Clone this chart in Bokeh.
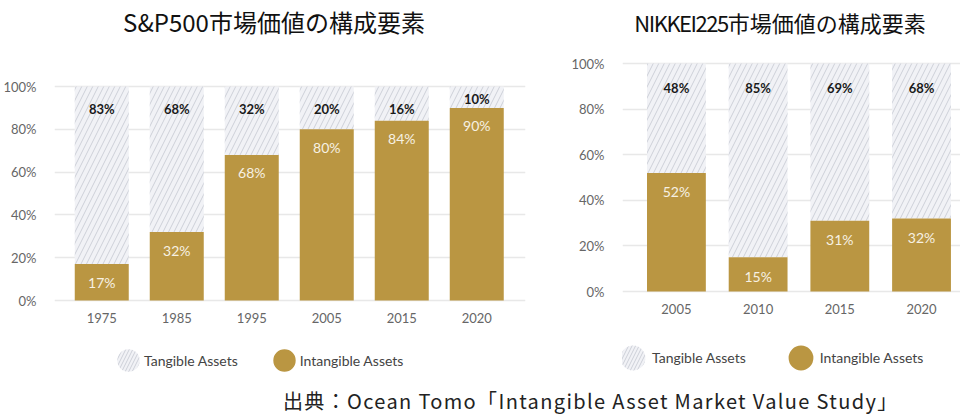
from bokeh.plotting import figure
from bokeh.models import (Range1d, FixedTicker, PrintfTickFormatter, Legend,
                          LegendItem, ColumnDataSource, Div)
from bokeh.layouts import row, column
from bokeh.core.properties import value
from bokeh.embed import file_html
from bokeh.resources import INLINE

# ---------------- data ----------------
sp_years = ["1975", "1985", "1995", "2005", "2015", "2020"]
sp_intangible = [17, 32, 68, 80, 84, 90]
sp_tangible = [83, 68, 32, 20, 16, 10]

nk_years = ["2005", "2010", "2015", "2020"]
nk_intangible = [52, 15, 31, 32]
nk_tangible = [48, 85, 69, 68]

ticks_y = [0, 20, 40, 60, 80, 100]

sp_title = ("S&P500", "市場価値の構成要素")
nk_title = ("NIKKEI225", "市場価値の構成要素")
source_text = "出典：Ocean Tomo「Intangible Asset Market Value Study」"
legend_labels = ["Tangible Assets", "Intangible Assets"]

# ---------------- styles ----------------
GOLD = "#BA9642"
HATCH_BG = "#F1F2F6"
HATCH_LINE = "#CDD0D8"
GRID = "#E8E8E8"
TICK = "#666666"
TICK_FONT = "Lato"
CJK_FONT = "Noto Sans CJK JP"
TITLE_H = 44
H = 344
SRC_H = 26
W1 = 560
W2 = 400
NAN = float("nan")


def make_chart(years, intang, tang, width, border_left, border_right,
               x_start, x_end, px_per_unit, top100, zero, top_off, in_off,
               leg_loc, leg_glyph, leg_spacing, label_standoff):
    idx = list(range(len(years)))
    src = ColumnDataSource(dict(
        x=idx,
        intang=intang,
        top=[a + b for a, b in zip(intang, tang)],
        lab_in=[f"{v}%" for v in intang],
        lab_tg=[f"{v}%" for v in tang],
        off_tg=[min(top_off, t * px_per_unit - 9) for t in tang],
    ))
    p = figure(width=width, height=H, output_backend="svg", toolbar_location=None,
               x_range=Range1d(x_start, x_end),
               y_range=Range1d(-(H - zero) / px_per_unit, 100 + top100 / px_per_unit),
               min_border_left=border_left, min_border_right=border_right,
               min_border_top=0, min_border_bottom=0, margin=0)
    p.outline_line_color = None
    p.xgrid.grid_line_color = None
    p.ygrid.grid_line_color = GRID
    p.ygrid.grid_line_width = 1.5

    p.yaxis.ticker = FixedTicker(ticks=ticks_y)
    p.yaxis.formatter = PrintfTickFormatter(format="%d%%")
    p.xaxis.ticker = FixedTicker(ticks=idx)
    p.xaxis.major_label_overrides = {i: y for i, y in zip(idx, years)}
    p.xaxis.fixed_location = 0
    for ax in (p.xaxis, p.yaxis):
        ax.axis_line_color = None
        ax.major_tick_line_color = None
        ax.minor_tick_line_color = None
        ax.major_label_text_font = TICK_FONT
        ax.major_label_text_font_size = "13px"
        ax.major_label_text_color = TICK
    p.yaxis.major_label_standoff = 12
    p.xaxis.major_label_standoff = 6

    # tangible (hatched) stacked part
    p.vbar(x="x", width=0.72, bottom="intang", top="top", source=src,
           fill_color=HATCH_BG, line_color=None, hatch_pattern="/",
           hatch_color=HATCH_LINE, hatch_weight=1, hatch_scale=11)
    # intangible (gold)
    p.vbar(x="x", width=0.72, bottom=0, top="intang", source=src,
           fill_color=GOLD, line_color=None)

    p.text(x="x", y="top", text="lab_tg", source=src, y_offset="off_tg",
           text_align="center", text_baseline="middle",
           text_font=value(TICK_FONT), text_font_style="bold",
           text_font_size="13px", text_color="#1a1a1a")
    p.text(x="x", y="intang", text="lab_in", source=src, y_offset=in_off,
           text_align="center", text_baseline="middle",
           text_font=value(TICK_FONT), text_font_size="14px", text_color="#F7F1E3")

    # legend swatches (nothing drawn in the plot: NaN position)
    d1 = p.ellipse(x=[NAN], y=[NAN], width=10, height=10, width_units="screen",
                   height_units="screen", fill_color=HATCH_BG, line_color=None,
                   hatch_pattern="/", hatch_color=HATCH_LINE, hatch_weight=1,
                   hatch_scale=7)
    d2 = p.ellipse(x=[NAN], y=[NAN], width=10, height=10, width_units="screen",
                   height_units="screen", fill_color=GOLD, line_color=None)
    leg = Legend(items=[LegendItem(label=legend_labels[0], renderers=[d1]),
                        LegendItem(label=legend_labels[1], renderers=[d2])],
                 location=leg_loc, orientation="horizontal",
                 glyph_width=leg_glyph, glyph_height=leg_glyph,
                 label_standoff=label_standoff, spacing=leg_spacing,
                 padding=0, margin=0, border_line_color=None,
                 background_fill_alpha=0, label_text_font=TICK_FONT,
                 label_text_font_size="14px", label_text_color="#444444")
    p.add_layout(leg, "center")
    return p


left = make_chart(sp_years, sp_intangible, sp_tangible, width=W1,
                  border_left=52, border_right=W1 - 525,
                  x_start=-0.63, x_end=5.65, px_per_unit=2.14,
                  top100=42, zero=256, top_off=22, in_off=18,
                  leg_loc=(60, 14), leg_glyph=28, leg_spacing=32, label_standoff=2)

right = make_chart(nk_years, nk_intangible, nk_tangible, width=W2,
                   border_left=622 - W1, border_right=0,
                   x_start=-0.66, x_end=3.477, px_per_unit=2.28,
                   top100=19, zero=247, top_off=24, in_off=19,
                   leg_loc=(-5, 15), leg_glyph=31, leg_spacing=39, label_standoff=4)


def title_div(parts, width, pad_left, pad_right, size, latin_spacing):
    latin, cjk = parts
    html = (f'<div style="width:{width}px;height:{TITLE_H}px;box-sizing:border-box;'
            f'padding-left:{pad_left}px;padding-right:{pad_right}px;margin:0;'
            f'text-align:center;font-size:{size}px;line-height:{TITLE_H}px;'
            f'font-family:\'{CJK_FONT}\';color:#111;white-space:nowrap">'
            f'<span style="letter-spacing:{latin_spacing}px">{latin}</span>{cjk}</div>')
    return Div(text=html, width=width, height=TITLE_H, margin=0)


t_left = title_div(sp_title, W1, 0, 12, 24, 0)
t_right = title_div(nk_title, W2, 40, 0, 22, -1.5)

src_div = Div(text=(f'<div style="margin:0 0 0 283px;font-size:20px;line-height:{SRC_H}px;'
                    f'letter-spacing:1.35px;font-family:\'{CJK_FONT}\';color:#222;'
                    f'white-space:nowrap">{source_text}</div>'),
              width=W1 + W2, height=SRC_H, margin=0)

layout = column(row(t_left, t_right, spacing=0), row(left, right, spacing=0), src_div,
                spacing=0)
open("out.html", "w").write(file_html(layout, INLINE))
